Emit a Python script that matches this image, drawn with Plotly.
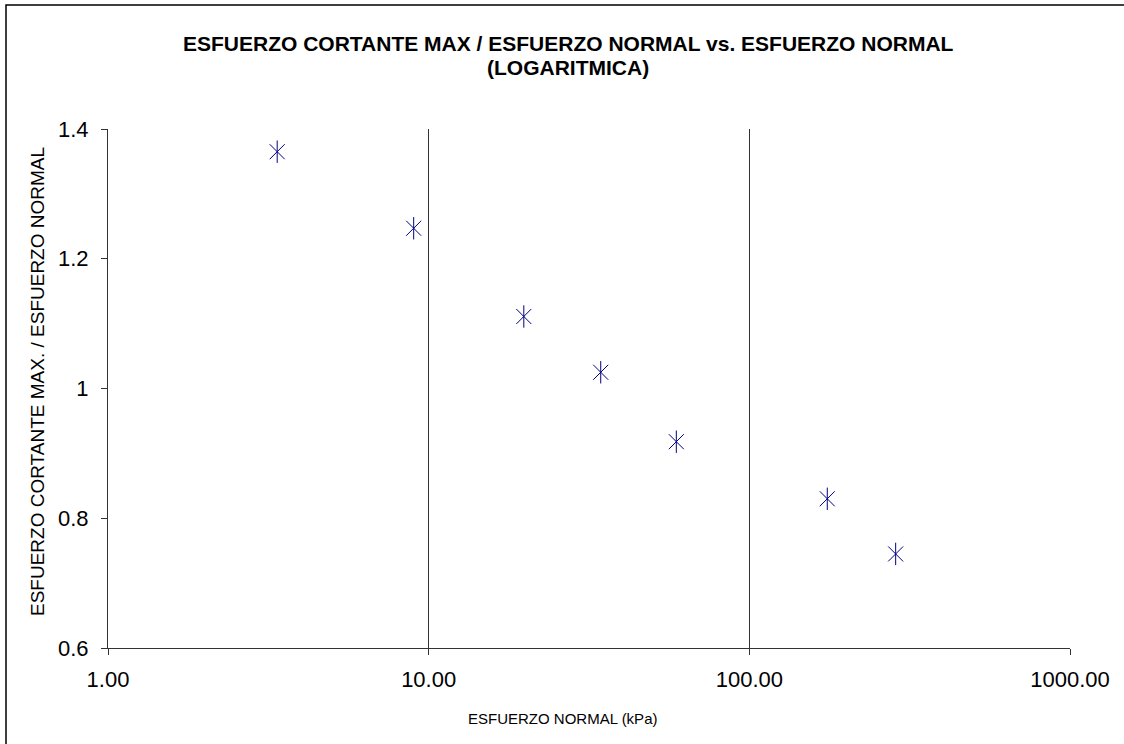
import plotly.graph_objects as go

# Data
esfuerzo_normal = [3.37, 8.98, 19.8, 34.4, 59.2, 175.0, 286.0]
ratio_cortante_normal = [1.365, 1.247, 1.111, 1.025, 0.918, 0.830, 0.745]

x_tickvals = [1, 10, 100, 1000]
x_ticktext = ["1.00", "10.00", "100.00", "1000.00"]
y_tickvals = [0.6, 0.8, 1.0, 1.2, 1.4]
y_ticktext = ["0.6", "0.8", "1", "1.2", "1.4"]

W, H = 1124, 744
L, R, T, B = 108, 54, 129, 96
PW, PH = W - L - R, H - T - B


def px_x(px):
    return (px - L) / PW


def px_y(py):
    return (H - B - py) / PH


FONT = "Liberation Sans, Arial, sans-serif"
MCOL = "#000080"

fig = go.Figure()
fig.add_trace(go.Scatter(
    x=esfuerzo_normal, y=ratio_cortante_normal, mode="markers",
    marker=dict(symbol="x-thin-open", size=15, line=dict(color=MCOL, width=1), color=MCOL),
    hoverinfo="x+y", showlegend=False))
fig.add_trace(go.Scatter(
    x=esfuerzo_normal, y=ratio_cortante_normal, mode="markers",
    marker=dict(symbol="line-ns-open", size=16, line=dict(color=MCOL, width=1), color=MCOL),
    hoverinfo="skip", showlegend=False))

fig.update_layout(
    width=W, height=H,
    margin=dict(l=L, r=R, t=T, b=B),
    paper_bgcolor="white", plot_bgcolor="white",
    font=dict(family=FONT, color="black"),
    xaxis=dict(
        type="log", range=[0, 3],
        tickvals=x_tickvals, ticktext=x_ticktext,
        showgrid=True, gridcolor="#333333", gridwidth=1,
        showline=True, linecolor="#333333", linewidth=1,
        ticks="outside", ticklen=6, tickcolor="#333333",
        tickfont=dict(size=22, family=FONT, color="black"),
        ticklabelstandoff=6,
        zeroline=False,
    ),
    yaxis=dict(
        range=[0.6, 1.4],
        tickvals=y_tickvals, ticktext=y_ticktext,
        showgrid=False,
        showline=True, linecolor="#333333", linewidth=1,
        ticks="outside", ticklen=6, tickcolor="#333333",
        tickfont=dict(size=22, family=FONT, color="black"),
        ticklabelstandoff=8,
        zeroline=False,
    ),
    annotations=[
        dict(text="<b>ESFUERZO CORTANTE MAX / ESFUERZO NORMAL vs. ESFUERZO NORMAL</b>",
             x=px_x(568), y=px_y(43), xref="paper", yref="paper",
             xanchor="center", yanchor="middle", showarrow=False,
             font=dict(size=21, family=FONT, color="black")),
        dict(text="<b>(LOGARITMICA)</b>",
             x=px_x(568), y=px_y(67), xref="paper", yref="paper",
             xanchor="center", yanchor="middle", showarrow=False,
             font=dict(size=21, family=FONT, color="black")),
        dict(text="ESFUERZO NORMAL (kPa)",
             x=px_x(562), y=px_y(718), xref="paper", yref="paper",
             xanchor="center", yanchor="middle", showarrow=False,
             font=dict(size=15, family=FONT, color="black")),
        dict(text="ESFUERZO CORTANTE MAX. / ESFUERZO NORMAL",
             x=px_x(37), y=px_y(382), xref="paper", yref="paper",
             xanchor="center", yanchor="middle", showarrow=False, textangle=-90,
             font=dict(size=19, family=FONT, color="black")),
    ],
    shapes=[
        dict(type="rect", xref="paper", yref="paper",
             x0=px_x(6), x1=px_x(1140), y0=px_y(760), y1=px_y(5),
             line=dict(color="black", width=1.5), fillcolor="rgba(0,0,0,0)", layer="below"),
    ],
)

fig.write_html("out.html")
